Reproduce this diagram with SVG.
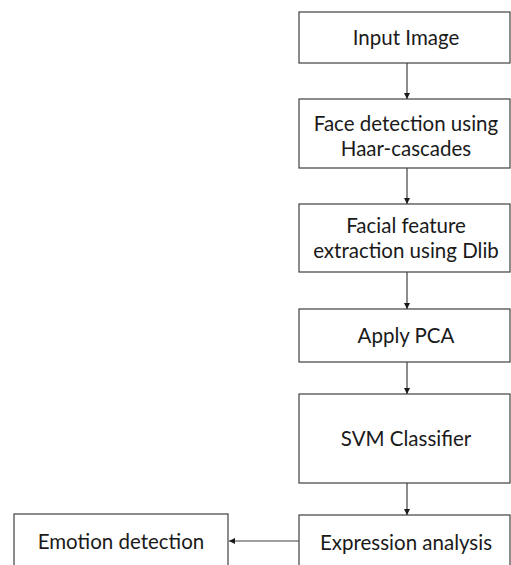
<svg xmlns="http://www.w3.org/2000/svg" width="511" height="565" viewBox="0 0 511 565">
<style>
.box{fill:#fff;stroke:#404040;stroke-width:1.2}
.t{font-family:Lato,"Open Sans",sans-serif;font-size:20.5px;fill:#1a1a1a;text-anchor:middle}
.c{stroke:#404040;stroke-width:1.2;fill:none}
</style>
<defs>
<marker id="ah" viewBox="0 0 10 10" refX="10" refY="5" markerWidth="6" markerHeight="6" markerUnits="userSpaceOnUse" orient="auto">
<path d="M0,0 L10,5 L0,10 Z" fill="#1a1a1a"/>
</marker>
</defs>
<rect width="511" height="565" fill="#fff"/>
<g id="n1"><rect class="box" x="299" y="12" width="211" height="51"/><text class="t" x="406" y="45">Input Image</text></g>
<g id="n2"><rect class="box" x="299" y="99" width="211" height="69"/><text class="t" x="406" y="131">Face detection using</text><text class="t" x="406" y="156">Haar-cascades</text></g>
<g id="n3"><rect class="box" x="299" y="204" width="211" height="68"/><text class="t" x="406" y="233">Facial feature</text><text class="t" x="406" y="258">extraction using Dlib</text></g>
<g id="n4"><rect class="box" x="299" y="309" width="211" height="53"/><text class="t" x="406" y="343">Apply PCA</text></g>
<g id="n5"><rect class="box" x="299" y="394" width="211" height="89"/><text class="t" x="406" y="446">SVM Classifier</text></g>
<g id="n6"><rect class="box" x="299" y="515" width="211" height="60"/><text class="t" x="406" y="550">Expression analysis</text></g>
<g id="n7"><rect class="box" x="14" y="514" width="214" height="60"/><text class="t" x="121" y="549">Emotion detection</text></g>
<g id="connectors">
<line class="c" x1="407" y1="63" x2="407" y2="99" marker-end="url(#ah)"/>
<line class="c" x1="407" y1="168" x2="407" y2="204" marker-end="url(#ah)"/>
<line class="c" x1="407" y1="272" x2="407" y2="309" marker-end="url(#ah)"/>
<line class="c" x1="407" y1="362" x2="407" y2="394" marker-end="url(#ah)"/>
<line class="c" x1="407" y1="483" x2="407" y2="515" marker-end="url(#ah)"/>
<line class="c" x1="299" y1="541" x2="229" y2="541" marker-end="url(#ah)"/>
</g>
</svg>
